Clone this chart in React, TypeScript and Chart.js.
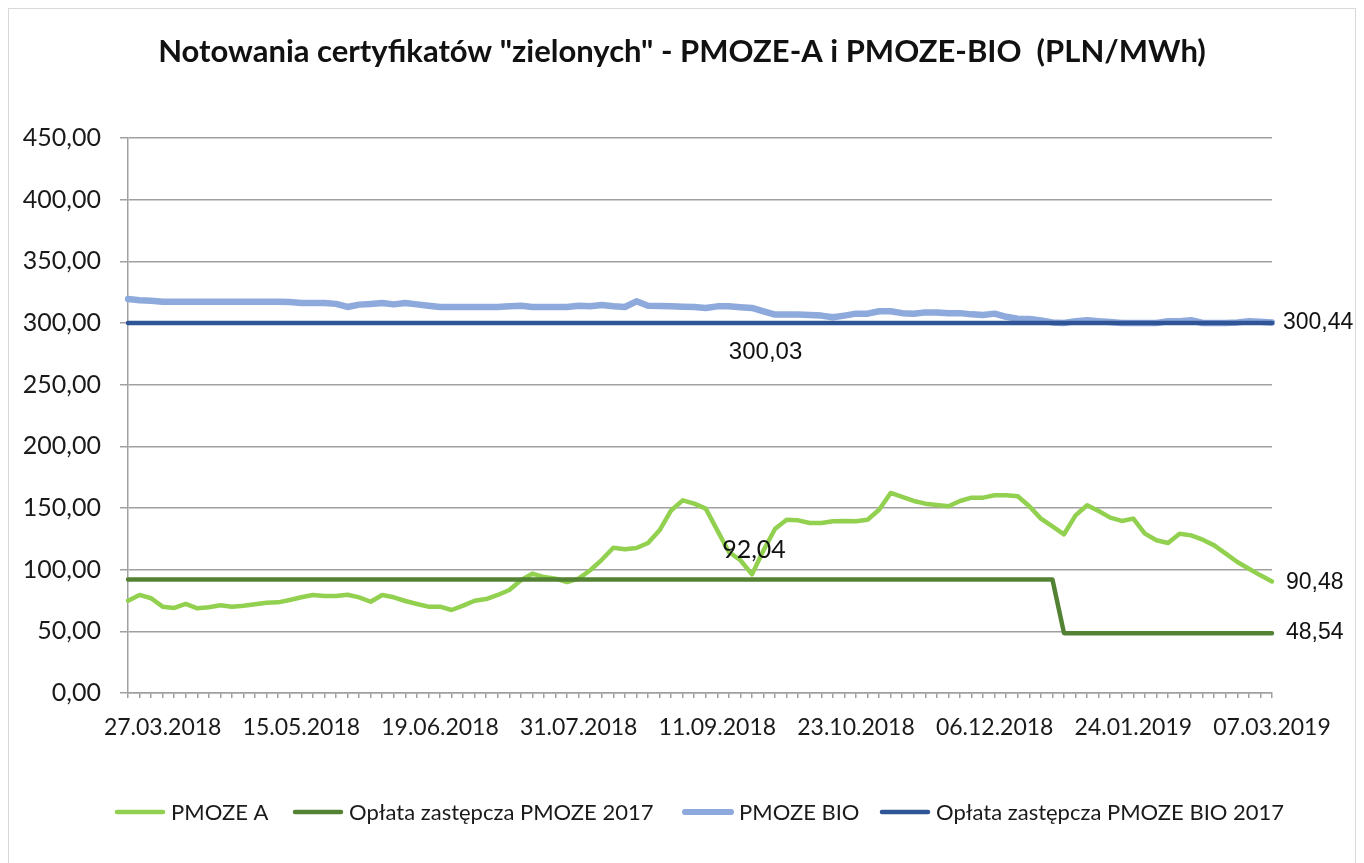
import React, { useEffect, useRef } from 'react';
import { Chart, registerables } from 'chart.js';

Chart.register(...registerables);

// ---------- data ----------
const tickLabels = [
  '27.03.2018', '15.05.2018', '19.06.2018', '31.07.2018', '11.09.2018',
  '23.10.2018', '06.12.2018', '24.01.2019', '07.03.2019',
];
const tickIndices = [3, 15, 27, 39, 51, 63, 75, 87, 99];
const pointCount = 100;

const pmozeA = [
  74.8, 79.5, 76.8, 70.0, 69.0, 72.2, 68.7, 69.5, 71.1, 70.0,
  70.8, 72.0, 73.2, 73.5, 75.4, 77.6, 79.5, 78.6, 78.6, 79.7,
  77.5, 74.0, 79.5, 77.6, 74.6, 72.2, 70.0, 70.0, 67.3, 70.8,
  74.8, 76.2, 79.5, 83.5, 91.4, 96.8, 94.0, 92.7, 90.0, 92.7,
  99.5, 108.0, 117.8, 116.5, 117.6, 121.6, 131.9, 148.0, 156.2, 153.5,
  149.5, 131.9, 114.3, 107.6, 96.2, 115.7, 133.2, 140.5, 140.0, 137.8,
  137.8, 139.2, 139.5, 139.2, 140.5, 148.6, 162.2, 159.0, 155.7, 153.5,
  152.4, 151.4, 155.7, 158.4, 158.4, 160.3, 160.3, 159.5, 151.4, 141.4,
  135.1, 128.7, 144.0, 152.2, 147.6, 142.2, 139.5, 141.4, 129.2, 123.8,
  121.6, 129.2, 127.8, 124.3, 119.7, 113.0, 106.2, 100.8, 95.4, 90.48,
];

const oplataPmoze2017 = [
  92.04, 92.04, 92.04, 92.04, 92.04, 92.04, 92.04, 92.04, 92.04, 92.04,
  92.04, 92.04, 92.04, 92.04, 92.04, 92.04, 92.04, 92.04, 92.04, 92.04,
  92.04, 92.04, 92.04, 92.04, 92.04, 92.04, 92.04, 92.04, 92.04, 92.04,
  92.04, 92.04, 92.04, 92.04, 92.04, 92.04, 92.04, 92.04, 92.04, 92.04,
  92.04, 92.04, 92.04, 92.04, 92.04, 92.04, 92.04, 92.04, 92.04, 92.04,
  92.04, 92.04, 92.04, 92.04, 92.04, 92.04, 92.04, 92.04, 92.04, 92.04,
  92.04, 92.04, 92.04, 92.04, 92.04, 92.04, 92.04, 92.04, 92.04, 92.04,
  92.04, 92.04, 92.04, 92.04, 92.04, 92.04, 92.04, 92.04, 92.04, 92.04,
  92.04, 48.54, 48.54, 48.54, 48.54, 48.54, 48.54, 48.54, 48.54, 48.54,
  48.54, 48.54, 48.54, 48.54, 48.54, 48.54, 48.54, 48.54, 48.54, 48.54,
];

const pmozeBio = [
  319.5, 318.4, 318.0, 317.3, 317.3, 317.3, 317.3, 317.3, 317.3, 317.3,
  317.3, 317.3, 317.3, 317.3, 317.0, 316.2, 316.2, 316.2, 315.5, 313.0,
  314.9, 315.5, 316.2, 315.1, 316.2, 315.1, 314.0, 313.0, 313.0, 313.0,
  313.0, 313.0, 313.0, 313.5, 314.0, 313.0, 313.0, 313.0, 313.0, 314.0,
  313.5, 314.6, 313.5, 313.0, 317.6, 314.0, 313.8, 313.5, 313.2, 313.0,
  312.2, 313.5, 313.6, 312.8, 312.2, 309.5, 306.8, 306.8, 306.8, 306.4,
  306.0, 304.6, 306.0, 307.6, 307.6, 309.5, 309.5, 308.0, 307.5, 308.6,
  308.5, 308.0, 308.0, 307.0, 306.5, 307.6, 305.0, 303.5, 303.2, 302.0,
  300.5, 300.0, 301.5, 302.2, 301.5, 300.8, 300.0, 300.0, 300.0, 300.0,
  301.4, 301.4, 302.2, 300.0, 300.0, 300.0, 300.5, 301.4, 301.0, 300.44,
];

const oplataBio2017 = [
  300.03, 300.03, 300.03, 300.03, 300.03, 300.03, 300.03, 300.03, 300.03, 300.03,
  300.03, 300.03, 300.03, 300.03, 300.03, 300.03, 300.03, 300.03, 300.03, 300.03,
  300.03, 300.03, 300.03, 300.03, 300.03, 300.03, 300.03, 300.03, 300.03, 300.03,
  300.03, 300.03, 300.03, 300.03, 300.03, 300.03, 300.03, 300.03, 300.03, 300.03,
  300.03, 300.03, 300.03, 300.03, 300.03, 300.03, 300.03, 300.03, 300.03, 300.03,
  300.03, 300.03, 300.03, 300.03, 300.03, 300.03, 300.03, 300.03, 300.03, 300.03,
  300.03, 300.03, 300.03, 300.03, 300.03, 300.03, 300.03, 300.03, 300.03, 300.03,
  300.03, 300.03, 300.03, 300.03, 300.03, 300.03, 300.03, 300.03, 300.03, 300.03,
  300.03, 300.03, 300.03, 300.03, 300.03, 300.03, 300.03, 300.03, 300.03, 300.03,
  300.03, 300.03, 300.03, 300.03, 300.03, 300.03, 300.03, 300.03, 300.03, 300.03,
];

const seriesNames = [
  'PMOZE A',
  'Opłata zastępcza PMOZE 2017',
  'PMOZE BIO',
  'Opłata zastępcza PMOZE BIO 2017',
];

const yTicks = { min: 0, max: 450, step: 50 };

const categories = Array.from({ length: pointCount }, (_, i) => {
  const k = tickIndices.indexOf(i);
  return k >= 0 ? tickLabels[k] : '';
});

const fmt = (v: number) => v.toFixed(2).replace('.', ',');

// ---------- layout / style ----------
const CANVAS_W = 1346;
const CANVAS_H = 858;
const LEGEND_X = [106, 284, 674, 871];
const LEGEND_Y = 803;
const LEGEND_SAMPLE = 50;

// value labels: which point they belong to, and where to place the text
const valueLabels = [
  { ds: 2, idx: 99, dx: 11, dy: 0, align: 'left', font: '23px "Liberation Sans"' },
  { ds: 3, idx: 55, dx: 2, dy: 29, align: 'center', font: '24px "Liberation Sans"' },
  { ds: 1, idx: 54, dx: 2, dy: -30, align: 'center', font: '25px Lato' },
  { ds: 0, idx: 99, dx: 14, dy: 1, align: 'left', font: '23px "Liberation Sans"' },
  { ds: 1, idx: 99, dx: 14, dy: 0, align: 'left', font: '23px "Liberation Sans"' },
];

const valueLabelPlugin = {
  id: 'valueLabels',
  afterDatasetsDraw(chart: any) {
    const ctx = chart.ctx;
    ctx.save();
    ctx.fillStyle = '#111';
    ctx.textBaseline = 'middle';
    valueLabels.forEach((l) => {
      const meta = chart.getDatasetMeta(l.ds);
      const pt = meta.data[l.idx];
      if (!pt) return;
      const v = chart.data.datasets[l.ds].data[l.idx] as number;
      ctx.font = l.font;
      ctx.textAlign = l.align;
      ctx.fillText(fmt(v), pt.x + l.dx, pt.y + l.dy);
    });
    ctx.restore();
  },
};

const legendPlugin = {
  id: 'customLegend',
  afterDraw(chart: any) {
    const ctx = chart.ctx;
    ctx.save();
    ctx.font = '22px Lato';
    ctx.textBaseline = 'middle';
    ctx.textAlign = 'left';
    chart.data.datasets.forEach((ds: any, i: number) => {
      const x = LEGEND_X[i];
      const y = LEGEND_Y;
      ctx.strokeStyle = ds.borderColor;
      ctx.lineWidth = Math.min(ds.borderWidth, 6);
      ctx.lineCap = 'round';
      ctx.beginPath();
      ctx.moveTo(x + 2, y);
      ctx.lineTo(x + LEGEND_SAMPLE - 2, y);
      ctx.stroke();
      ctx.fillStyle = '#1a1a1a';
      ctx.fillText(ds.label, x + LEGEND_SAMPLE + 6, y + 1);
    });
    ctx.restore();
  },
};

export default function App() {
  const canvasRef = useRef<HTMLCanvasElement | null>(null);

  useEffect(() => {
    let chart: Chart | null = null;
    let cancelled = false;
    const fonts = ['25px Lato', '23px Lato', 'bold 31px Lato', '23px "Liberation Sans"'];
    Promise.all(fonts.map((f) => (document as any).fonts.load(f)))
      .catch(() => null)
      .then(() => {
        if (cancelled || !canvasRef.current) return;
        chart = new Chart(canvasRef.current, {
          type: 'line',
          data: {
            labels: categories,
            datasets: [
              { label: seriesNames[0], data: pmozeA, borderColor: '#92D050', backgroundColor: '#92D050', borderWidth: 4.5, order: 3 },
              { label: seriesNames[1], data: oplataPmoze2017, borderColor: '#548235', backgroundColor: '#548235', borderWidth: 4.5, order: 2 },
              { label: seriesNames[2], data: pmozeBio, borderColor: '#8EA9DB', backgroundColor: '#8EA9DB', borderWidth: 6.5, order: 1 },
              { label: seriesNames[3], data: oplataBio2017, borderColor: '#2F5597', backgroundColor: '#2F5597', borderWidth: 4.5, order: 0 },
            ],
          },
          options: {
            animation: false,
            responsive: false,
            maintainAspectRatio: false,
            devicePixelRatio: 1,
            elements: {
              point: { radius: 0, hoverRadius: 0 },
              line: { tension: 0, borderJoinStyle: 'round', borderCapStyle: 'round' },
            },
            layout: { padding: { left: 0, right: 0, top: 0, bottom: 89.5 } },
            plugins: {
              legend: { display: false },
              tooltip: { enabled: false },
              title: {
                display: true,
                text: 'Notowania certyfikatów "zielonych" - PMOZE-A i PMOZE-BIO  (PLN/MWh)',
                color: '#111',
                font: { family: 'Lato', size: 31, weight: 'bold' },
                padding: { top: 24.4, bottom: 67.4 },
              },
            },
            scales: {
              x: {
                type: 'category',
                offset: false,
                afterFit: (s: any) => { s.height = 84.5; },
                grid: {
                  display: true,
                  drawOnChartArea: false,
                  drawTicks: true,
                  tickLength: 5,
                  color: '#a0a0a0',
                  lineWidth: 1.5,
                },
                border: { display: true, color: '#a0a0a0', width: 1.5 },
                ticks: {
                  autoSkip: false,
                  maxRotation: 0,
                  minRotation: 0,
                  padding: 16,
                  color: '#1a1a1a',
                  font: { family: 'Lato', size: 23 },
                },
              },
              y: {
                min: yTicks.min,
                max: yTicks.max,
                afterFit: (s: any) => { s.width = 119; },
                grid: {
                  color: '#a0a0a0',
                  lineWidth: 1.5,
                  drawTicks: true,
                  tickLength: 8,
                },
                border: { display: true, color: '#a0a0a0', width: 1.5 },
                ticks: {
                  stepSize: yTicks.step,
                  padding: 19,
                  color: '#1a1a1a',
                  font: { family: 'Lato', size: 25 },
                  callback: (v: any) => fmt(Number(v)),
                },
              },
              // empty right-hand axis that only reserves room for the end-of-line value labels
              yRight: {
                type: 'linear',
                position: 'right',
                display: true,
                min: yTicks.min,
                max: yTicks.max,
                afterFit: (s: any) => { s.width = 83; },
                grid: { display: false, drawOnChartArea: false, drawTicks: false },
                border: { display: false },
                ticks: { display: false },
              },
            },
          },
          plugins: [valueLabelPlugin, legendPlugin],
        });
      });
    return () => {
      cancelled = true;
      if (chart) chart.destroy();
    };
  }, []);

  return (
    <div
      style={{
        width: CANVAS_W + 2,
        height: CANVAS_H + 2,
        border: '1px solid #d9d9d9',
        boxSizing: 'border-box',
        background: '#fff',
      }}
    >
      <canvas ref={canvasRef} width={CANVAS_W} height={CANVAS_H} style={{ display: 'block', width: CANVAS_W, height: CANVAS_H }} />
    </div>
  );
}
